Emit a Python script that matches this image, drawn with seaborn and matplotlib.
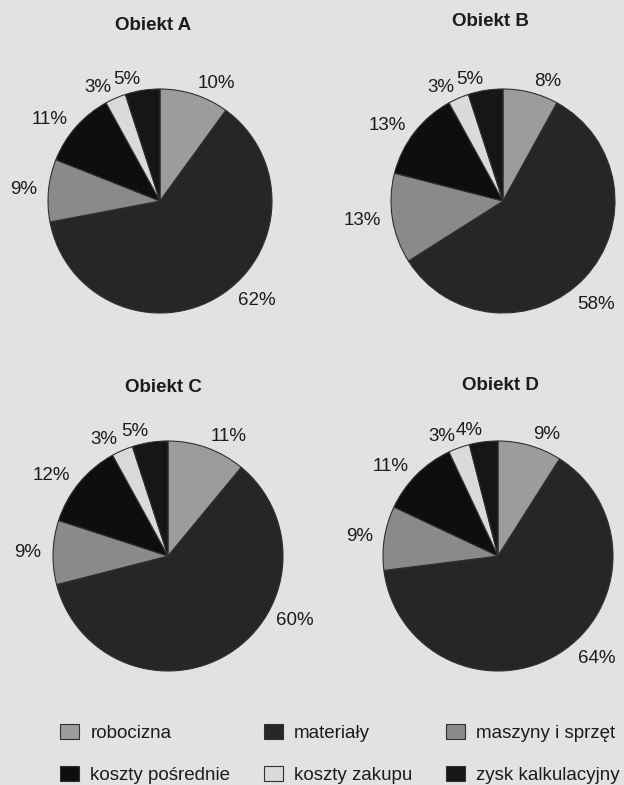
import matplotlib
matplotlib.use("Agg")
import matplotlib.pyplot as plt
import seaborn as sns
import numpy as np

sns.set_theme(style="white")
plt.rcParams['font.family'] = ['Liberation Sans', 'DejaVu Sans']

categories = ["robocizna", "materiały", "maszyny i sprzęt",
              "koszty pośrednie", "koszty zakupu", "zysk kalkulacyjny"]
titles = ["Obiekt A", "Obiekt B", "Obiekt C", "Obiekt D"]
obiekt_a = [10, 62, 9, 11, 3, 5]
obiekt_b = [8, 58, 13, 13, 3, 5]
obiekt_c = [11, 60, 9, 12, 3, 5]
obiekt_d = [9, 64, 9, 11, 3, 4]
series = [obiekt_a, obiekt_b, obiekt_c, obiekt_d]

colors = ["#9c9c9c", "#262626", "#8a8a8a", "#0e0e0e", "#dadada", "#161616"]
bg = "#e2e2e2"
txt = "#1c1c1c"

W, H = 624, 785
fig = plt.figure(figsize=(W / 100, H / 100), dpi=100, facecolor=bg)

# layout (pixels): pie centre x, centre y, radius; title positions
geom = [(160, 201, 112), (503, 201, 112), (168, 556, 115), (498, 556, 115)]
title_pos = [(153, 25), (490, 22), (163, 387), (500, 385)]
# direction (degrees) in which the large "materiały" label sits
big_label_angle = [-46, -48, -27, -46]

wedges_ref = None
for vals, ttl, (cx, cy, r), (tx, ty), bang in zip(series, titles, geom,
                                                   title_pos, big_label_angle):
    ext = 1.6
    ax = fig.add_axes([(cx - ext * r) / W, (H - cy - ext * r) / H,
                       2 * ext * r / W, 2 * ext * r / H])
    labels = [f"{v}%" for v in vals]
    wedges, texts = ax.pie(vals, colors=colors, startangle=90, counterclock=False,
                           labels=labels, labeldistance=1.1,
                           wedgeprops=dict(edgecolor="#303030", linewidth=0.8),
                           textprops=dict(fontsize=13.5, color=txt))
    big = texts[1]
    a = np.deg2rad(bang)
    big.set_position((1.24 * np.cos(a), 1.24 * np.sin(a)))
    big.set_ha("center")
    big.set_va("center")
    ax.set_xlim(-ext, ext)
    ax.set_ylim(-ext, ext)
    ax.set_aspect("equal")
    ax.axis("off")
    if wedges_ref is None:
        wedges_ref = wedges
    fig.text(tx / W, 1 - ty / H, ttl, ha="center", va="center",
             fontsize=13.5, fontweight="bold", color=txt)

# legend drawn column-major: reorder so rows read like the reference
order = [0, 3, 1, 4, 2, 5]
leg = fig.legend([wedges_ref[i] for i in order], [categories[i] for i in order],
                 ncol=3, loc="center",
                 bbox_to_anchor=(0.545, 1 - 754 / H), frameon=False,
                 fontsize=13.5, handlelength=1.0, handleheight=0.85,
                 columnspacing=1.8, labelspacing=1.25, handletextpad=0.6)
for t in leg.get_texts():
    t.set_color(txt)

fig.savefig("out.png", dpi=100, facecolor=bg)
